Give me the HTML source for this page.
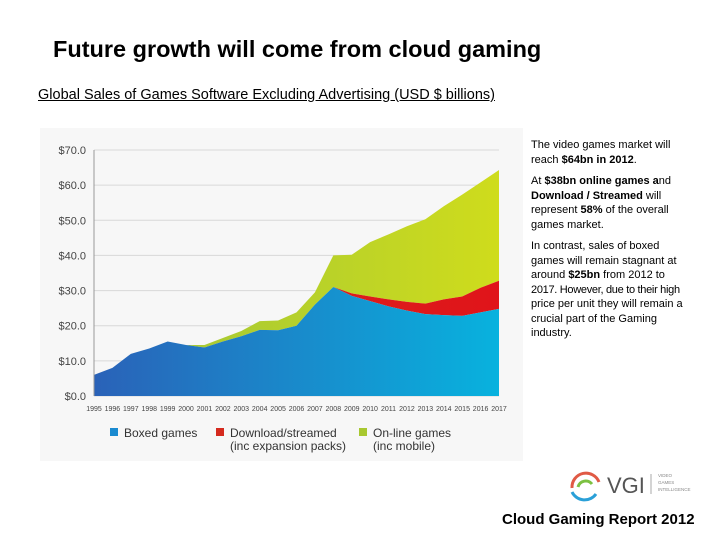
<!DOCTYPE html>
<html><head><meta charset="utf-8"><style>
body{margin:0;width:728px;height:546px;background:#fff;font-family:"Liberation Sans",Arial,sans-serif;position:relative;overflow:hidden}
.t{position:absolute}
</style></head><body>
<div class="t" style="left:53px;top:36px;font-size:23.5px;font-weight:bold;color:#000;white-space:nowrap">Future growth will come from cloud gaming</div>
<div class="t" style="left:38px;top:87px;font-size:14.5px;color:#000;text-decoration:underline;white-space:nowrap">Global Sales of Games Software Excluding Advertising (USD $ billions)</div>
<div class="t" style="left:531px;top:138px;width:158px;font-size:11px;line-height:14.5px;color:#000">
<p style="margin:0 0 7px">The video games market will reach <b>$64bn in 2012</b>.</p>
<p style="margin:0 0 7px">At <b>$38bn online games a</b>nd <b>Download / Streamed</b> will represent <b>58%</b> of the overall games market.</p>
<p style="margin:0">In contrast, sales of boxed games will remain stagnant at around <b>$25bn</b> from 2012 to <span style="white-space:nowrap;letter-spacing:-0.3px">2017. However, due to their high</span> price per unit they will remain a crucial part of the Gaming industry.</p>
</div>
<svg class="t" style="left:0;top:0" width="728" height="546">
<defs>
<linearGradient id="gb" x1="0" x2="1"><stop offset="0" stop-color="#2a62b8"/><stop offset="1" stop-color="#08b2de"/></linearGradient>
<linearGradient id="gr" x1="0" x2="1"><stop offset="0" stop-color="#d52a1e"/><stop offset="1" stop-color="#e0141a"/></linearGradient>
<linearGradient id="gg" x1="0" x2="1"><stop offset="0" stop-color="#9cc43a"/><stop offset="1" stop-color="#cfdc1c"/></linearGradient>
</defs>
<rect x="40" y="128" width="483" height="333" fill="#f7f7f7"/>
<g id="grid"></g><g id="areas"></g><g id="axes"></g>
<g font-size="12" fill="#333">
<rect x="110" y="428" width="8" height="8" fill="#1a8ad0"/>
<text x="124" y="437">Boxed games</text>
<rect x="216" y="428" width="8" height="8" fill="#d52a1e"/>
<text x="230" y="437">Download/streamed</text>
<text x="230" y="450">(inc expansion packs)</text>
<rect x="359" y="428" width="8" height="8" fill="#a8c830"/>
<text x="373" y="437">On-line games</text>
<text x="373" y="450">(inc mobile)</text>
</g>
<g>
<path d="M572 488 A14 14 0 0 1 599 482" stroke="#e05a45" stroke-width="3" fill="none"/>
<path d="M596 494 A14 14 0 0 1 572 492" stroke="#2aa0d8" stroke-width="3" fill="none"/>
<path d="M578 487 A8 8 0 0 1 592 484" stroke="#7cc142" stroke-width="3" fill="none"/>
<text x="607" y="493" font-size="22" fill="#555">VGI</text>
<line x1="651" y1="474" x2="651" y2="494" stroke="#aaa"/>
<text x="658" y="477" font-size="4.5" fill="#888">VIDEO</text>
<text x="658" y="484" font-size="4.5" fill="#888">GAMES</text>
<text x="658" y="491" font-size="4.5" fill="#888">INTELLIGENCE</text>
</g>
</svg>
<div class="t" style="left:502px;top:511px;font-size:15px;font-weight:bold;color:#000">Cloud Gaming Report 2012</div>
<script>
const years=[1995,1996,1997,1998,1999,2000,2001,2002,2003,2004,2005,2006,2007,2008,2009,2010,2011,2012,2013,2014,2015,2016,2017];
const boxed=[6,8,12,13.5,15.5,14.5,13.8,15.5,17,18.8,18.7,20,26,31,28.5,27,25.5,24.3,23.3,23,22.8,23.8,24.8];
const download=[0,0,0,0,0,0,0,0,0,0,0,0,0,0,0.7,1.3,2,2.5,3,4.5,5.5,7,8];
const online=[0,0,0,0,0,0,0.7,1,1.5,2.5,2.8,3.8,3.5,9,11,15.5,18.5,21.5,24,26.5,29,30,31.5];
const yTicks=[0,10,20,30,40,50,60,70];
const NS='http://www.w3.org/2000/svg';
const X=i=>94+i*(499-94)/(years.length-1);
const Y=v=>396-v*(396-150)/70;
function mk(t,a,p){const e=document.createElementNS(NS,t);for(const k in a)e.setAttribute(k,a[k]);p.appendChild(e);return e;}
const grid=document.getElementById('grid'),areas=document.getElementById('areas'),axes=document.getElementById('axes');
yTicks.forEach(v=>{
 const l=mk('line',{x1:94,x2:499,y1:Y(v),y2:Y(v),stroke:'#d8d8d8'},grid);
 
 
 const t=mk('text',{x:86,y:Y(v)+4,'text-anchor':'end','font-size':11,fill:'#444'},axes);
 t.textContent='$'+v.toFixed(1);
 
 
});
years.forEach((yr,i)=>{
 const t=mk('text',{x:X(i),y:411,'text-anchor':'middle','font-size':7,fill:'#444'},axes);
 t.textContent=yr;
 
 
});
mk('line',{x1:94,x2:94,y1:150,y2:396,stroke:'#999'},axes);
function band(lo,hi,fill,name){
 let d='M'+X(0)+','+Y(hi[0]);
 for(let i=1;i<years.length;i++)d+='L'+X(i)+','+Y(hi[i]);
 for(let i=years.length-1;i>=0;i--)d+='L'+X(i)+','+Y(lo[i]);
 const p=mk('path',{d:d+'Z',fill:fill},areas);
 
 
}
const zero=years.map(()=>0);
const s1=boxed.slice();
const s2=boxed.map((v,i)=>v+download[i]);
const s3=s2.map((v,i)=>v+online[i]);
band(s2,s3,'url(#gg)','online-games-area');
band(s1,s2,'url(#gr)','download-area');
band(zero,s1,'url(#gb)','boxed-games-area');
</script>
</body></html>
